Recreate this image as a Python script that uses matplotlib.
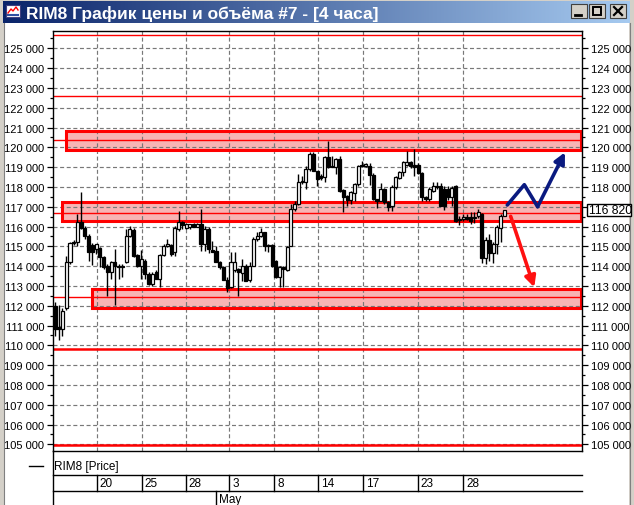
import matplotlib
matplotlib.use('Agg')
import matplotlib.pyplot as plt
import matplotlib.transforms as mtransforms
from matplotlib.patches import Rectangle, FancyArrowPatch
from matplotlib.ticker import MultipleLocator, FuncFormatter
import numpy as np

# ---------------- data ----------------
opens = [112000, 110900, 110820, 111870, 114190, 115150, 115200, 116210, 115910, 115540,
         115050, 114860, 114900, 114440, 113990, 113690, 114190, 113990, 113930, 114190,
         115530, 115820, 114560, 113990, 114270, 113600, 113100, 113720, 113350, 114560,
         115030, 115060, 114690, 115870, 116210, 115910, 115950, 116120, 116000, 116120,
         115120, 115870, 114810, 114780, 114230, 113940, 113300, 112930, 113820, 113850,
         113650, 114020, 113310, 114020, 115370, 115500, 115700, 115070, 115070, 114270,
         113430, 113940, 113820, 115030, 116880, 117140, 118230, 118230, 118900, 119660,
         118790, 118530, 118480, 119490, 119070, 118990, 119410, 117840, 117520, 117340,
         117680, 118150, 119110, 119050, 119070, 118620, 117390, 117310, 117900, 117220,
         117050, 118010, 118430, 118740, 119110, 119270, 119110, 119100, 118700, 117470,
         117390, 117810, 118060, 118060, 117890, 117890, 117480, 118060, 116350, 116370,
         116460, 116460, 116410, 116510, 116630, 114390, 115330, 114660, 115110, 115900,
         116550]
highs = [112170, 112030, 111870, 114490, 115230, 115320, 116630, 117760, 116040, 115620,
         115150, 115100, 114950, 114530, 114110, 114270, 114860, 114100, 114110, 115870,
         116040, 115930, 114610, 114810, 114360, 113690, 113690, 113800, 114600, 115120,
         115370, 115120, 116040, 116800, 116300, 116150, 116150, 116170, 116200, 116880,
         116040, 115950, 115280, 115030, 114280, 114020, 113430, 114690, 114690, 113890,
         114360, 114110, 114190, 115450, 115700, 115940, 115740, 115120, 115120, 114330,
         114020, 114020, 115030, 117140, 117310, 118650, 118570, 119070, 119780, 119780,
         118820, 118650, 119540, 120330, 119580, 119440, 119580, 117890, 117590, 117810,
         118180, 119120, 119320, 119230, 119200, 118700, 117410, 118180, 117950, 117270,
         118110, 118570, 118820, 119330, 119830, 119330, 119910, 119210, 118740, 117560,
         117980, 118230, 118230, 118200, 118060, 118060, 118060, 118100, 116550, 116630,
         116630, 116720, 116750, 116880, 116680, 115450, 115620, 115200, 116090, 116630,
         116850]
lows = [110490, 110280, 110490, 111800, 114110, 115050, 115030, 115870, 115370, 114270,
        114050, 114600, 113940, 113850, 112510, 113350, 112040, 113350, 113430, 114150,
        115450, 114440, 113950, 113350, 113350, 113030, 113000, 113350, 112930, 114530,
        114970, 114530, 114530, 115790, 115870, 115850, 115880, 115980, 115950, 114780,
        114780, 114650, 114700, 114220, 113850, 113300, 112680, 112880, 113680, 112510,
        113260, 113240, 113180, 113990, 115280, 115450, 114780, 114730, 113940, 113380,
        112930, 112930, 113770, 115030, 116800, 117090, 118150, 117890, 118820, 118790,
        118060, 118330, 118230, 118940, 118990, 118650, 117760, 116750, 117020, 117140,
        117300, 118060, 118990, 118990, 118090, 117340, 116930, 117270, 117140, 116800,
        116800, 117890, 118400, 118570, 119070, 118940, 118570, 118650, 117300, 117300,
        117300, 117730, 117900, 117020, 116850, 117350, 117050, 116250, 116080, 116290,
        116330, 116130, 116180, 116410, 114160, 114110, 114270, 114160, 114600, 115230,
        116530]
closes = [110820, 110800, 111750, 114190, 115150, 115230, 116210, 115910, 115540, 114700,
          114700, 115100, 114440, 113940, 113690, 114190, 113990, 113930, 114020, 115530,
          115870, 114530, 113990, 114360, 113600, 113100, 113600, 113350, 114560, 115030,
          115120, 114610, 115910, 116210, 116100, 116120, 116120, 116000, 116120, 115120,
          115870, 114860, 114700, 114230, 113940, 113300, 112880, 114190, 114190, 113680,
          114020, 113270, 114020, 115370, 115500, 115700, 115030, 115030, 114020, 113430,
          113940, 113850, 114950, 116880, 117140, 118230, 118310, 118900, 119660, 118820,
          118400, 118430, 119490, 118990, 119020, 119410, 117810, 117510, 117350, 117730,
          118150, 119070, 119050, 119150, 118620, 117390, 117300, 117900, 117220, 116970,
          118010, 118480, 118740, 119270, 119270, 119070, 119000, 118700, 117470, 117400,
          117890, 118060, 117980, 117050, 117050, 117480, 117970, 116290, 116330, 116460,
          116370, 116290, 116500, 116750, 114390, 115330, 114660, 115110, 115960, 116550,
          116820]

date_labels = ['20', '25', '28', '3', '8', '14', '17', '23', '28']
date_pos = [11.1, 23.2, 34.9, 46.6, 58.6, 70.3, 82.3, 97.0, 109.1]
month_label = 'May'
month_pos = 42.9

red_levels_thick = [109810, 104950]
red_levels_thin = [125670, 122580, 120350, 116680, 112420]
zones = [  # (start bar, low, high)
    (2.94, 119880, 120840),
    (1.95, 116260, 117250),
    (9.8, 111880, 112860),
]
up_path_x = [120.8, 125.35, 128.9, 136.2]
up_path_y = [117086, 118111, 117000, 119747]
down_path_x = [121.7, 128.0]
down_path_y = [116515, 112930]

title = 'RIM8 График цены и объёма #7 - [4 часа]'
legend_label = 'RIM8 [Price]'

# ---------------- figure ----------------
W, H = 634, 506
fig = plt.figure(figsize=(W / 100, H / 100), dpi=100)
fig.patch.set_facecolor('white')
FONT = 'Liberation Sans'
TS = 8.0

# chrome overlay in pixel coords
bg = fig.add_axes([0, 0, 1, 1], zorder=0)
bg.axis('off')
bg.add_patch(Rectangle((0, 0), W, H, fc='white', ec='none'))
bg.add_patch(Rectangle((0, 0), 4, H, fc='#d4d0c8', ec='none'))
bg.plot([3.5, 3.5], [24, H], color='#808080', lw=0.8)
bg.add_patch(Rectangle((629, 0), 5, H, fc='#d4d0c8', ec='none'))
bg.plot([629.5, 629.5], [24, H], color='#808080', lw=0.8)
bg.add_patch(Rectangle((0, 0), W, 2, fc='#d4d0c8', ec='none'))
grad = np.linspace(0, 1, 256).reshape(1, -1)
c1 = np.array([10, 36, 106]) / 255
c2 = np.array([166, 202, 240]) / 255
img = c1[None, None, :] * (1 - grad[..., None]) + c2[None, None, :] * grad[..., None]
bg.imshow(img, extent=(3, 630, 24, 2), aspect='auto', zorder=1)
bg.set_xlim(0, W)
bg.set_ylim(H, 0)
bg.text(26, 13.5, title, color='white', fontsize=12.5, fontweight='bold', family=FONT,
        va='center', ha='left', zorder=3)
# icon
bg.add_patch(Rectangle((6, 6), 14, 12, fc='white', ec='#404080', lw=0.8, zorder=3))
bg.plot([8, 11, 13, 16, 18], [14, 10, 12, 8, 11], color='red', lw=1, zorder=4)
bg.plot([8, 18], [16, 16], color='#3050a0', lw=1.5, zorder=4)
# buttons
for bx in (571, 589, 610):
    bg.add_patch(Rectangle((bx, 5), 16, 14, fc='#d4d0c8', ec='#404040', lw=0.8, zorder=3))
bg.plot([575, 581], [16, 16], color='black', lw=2, zorder=4)
bg.add_patch(Rectangle((593, 8), 8, 8, fc='none', ec='black', lw=1.4, zorder=4))
bg.plot([614, 622], [8, 16], color='black', lw=1.6, zorder=4)
bg.plot([614, 622], [16, 8], color='black', lw=1.6, zorder=4)

# ---------------- main axes ----------------
L, R, T, B = 53.3, 581.5, 32.0, 452.3
ax = fig.add_axes([L / W, 1 - B / H, (R - L) / W, (B - T) / H], zorder=2)
ax.set_facecolor('none')
n = len(opens)
xlim = (-0.454, 140.62)
ax.set_xlim(*xlim)
ax.set_ylim(104647, 125874)

o = np.array(opens); c = np.array(closes); hi = np.array(highs); lo = np.array(lows)
idx = np.arange(n)

for (x0, z0, z1) in zones:
    ax.add_patch(Rectangle((x0, z0), xlim[1] - x0 - 0.15, z1 - z0, fc='#f7b4b4', ec='none', zorder=1))

ax.set_yticks(np.arange(105000, 125001, 1000))
ax.yaxis.set_minor_locator(MultipleLocator(500))
ax.yaxis.set_major_formatter(FuncFormatter(lambda v, p: f"{int(v):,}".replace(',', ' ')))
ax.set_xticks(date_pos)
ax.set_xticklabels([])
ax.tick_params(axis='x', length=0)
ax.grid(True, which='major', color='#787878', ls=(0, (3.4, 2.2)), lw=0.85, zorder=1.5)
for gl in ax.get_xgridlines() + ax.get_ygridlines():
    gl.set_zorder(1.5)

for lv in red_levels_thin:
    ax.axhline(lv, color='#ff0000', lw=1.0, zorder=2)
for lv in red_levels_thick:
    ax.axhline(lv, color='#ff0000', lw=1.8, zorder=2)
for (x0, z0, z1) in zones:
    ax.add_patch(Rectangle((x0, z0), xlim[1] - x0 - 0.15, z1 - z0, fc='none', ec='#ff0000', lw=2.2, zorder=2.2))

ax.vlines(idx, lo, hi, color='black', lw=1.0, zorder=3)
body_b = np.minimum(o, c)
body_h = np.maximum(np.abs(c - o), 50)
cols = np.where(c >= o, 'white', 'black')
ax.bar(idx, body_h, bottom=body_b, width=0.82, color=cols, edgecolor='black', linewidth=0.9, zorder=4)

# arrows
ax.plot(up_path_x[:-1], up_path_y[:-1], color='#0a1a80', lw=2.6, solid_capstyle='round', zorder=5)
ax.add_patch(FancyArrowPatch((up_path_x[-2], up_path_y[-2]), (up_path_x[-1], up_path_y[-1]),
                             arrowstyle='-|>', mutation_scale=16, color='#0a1a80', lw=2.6,
                             shrinkA=0, shrinkB=0, zorder=5))
ax.add_patch(FancyArrowPatch((down_path_x[0], down_path_y[0]), (down_path_x[1], down_path_y[1]),
                             arrowstyle='-|>', mutation_scale=16, color='#ff1010', lw=2.6,
                             shrinkA=0, shrinkB=0, zorder=5))

for s in ax.spines.values():
    s.set_color('black'); s.set_linewidth(1.0)
ax.tick_params(axis='y', which='major', left=True, right=True, labelleft=True, labelright=True,
               length=4.3, width=0.9, pad=2.2, labelsize=TS, direction='out')
ax.tick_params(axis='y', which='minor', left=True, right=True, length=2.3, width=0.9, direction='out')
for lab in ax.get_yticklabels():
    lab.set_family(FONT)

last = closes[-1]
# hide the right-hand label hidden by the last-price box
for tk, v in zip(ax.yaxis.get_major_ticks(), ax.get_yticks()):
    if abs(v - last) < 700:
        tk.label2.set_visible(False)

# last price box on the right
blend = mtransforms.blended_transform_factory(ax.transAxes, ax.transData)
bx0 = (586.7 - L) / (R - L)
bw = (631.3 - 586.7) / (R - L)
ax.add_patch(Rectangle((bx0, last - 310), bw, 620, transform=blend, fc='white', ec='black',
                       lw=1.0, clip_on=False, zorder=10))
ax.text(bx0 + 0.005, last, f"{int(last):,}".replace(',', ' '), transform=blend, va='center', ha='left',
        fontsize=8.8, family=FONT, zorder=11, clip_on=False)

# date table
xt = ax.get_xaxis_transform()
def af(ypix):
    return (B - ypix) / (B - T)
ax.plot(list(xlim), [af(476), af(476)], transform=xt, color='black', lw=1.0, clip_on=False)
ax.plot(list(xlim), [af(492), af(492)], transform=xt, color='black', lw=1.0, clip_on=False)
ax.plot([xlim[0], xlim[0]], [af(452), af(506)], transform=xt, color='black', lw=1.0, clip_on=False)
for p, lab in zip(date_pos, date_labels):
    ax.plot([p, p], [af(476), af(492)], transform=xt, color='black', lw=1.0, clip_on=False)
    ax.text(p + 0.7, af(484.5), lab, transform=xt, fontsize=8.5, family=FONT, va='center', ha='left')
ax.plot([month_pos, month_pos], [af(492), af(506)], transform=xt, color='black', lw=1.0, clip_on=False)
ax.text(month_pos + 0.8, af(500), month_label, transform=xt, fontsize=8.5, family=FONT, va='center', ha='left')

# legend
bg.plot([29, 43], [467, 467], color='black', lw=1.0, zorder=3)
bg.text(54, 467, legend_label, fontsize=8.5, family=FONT, va='center', ha='left', zorder=3)

fig.savefig('out.png', dpi=100)
